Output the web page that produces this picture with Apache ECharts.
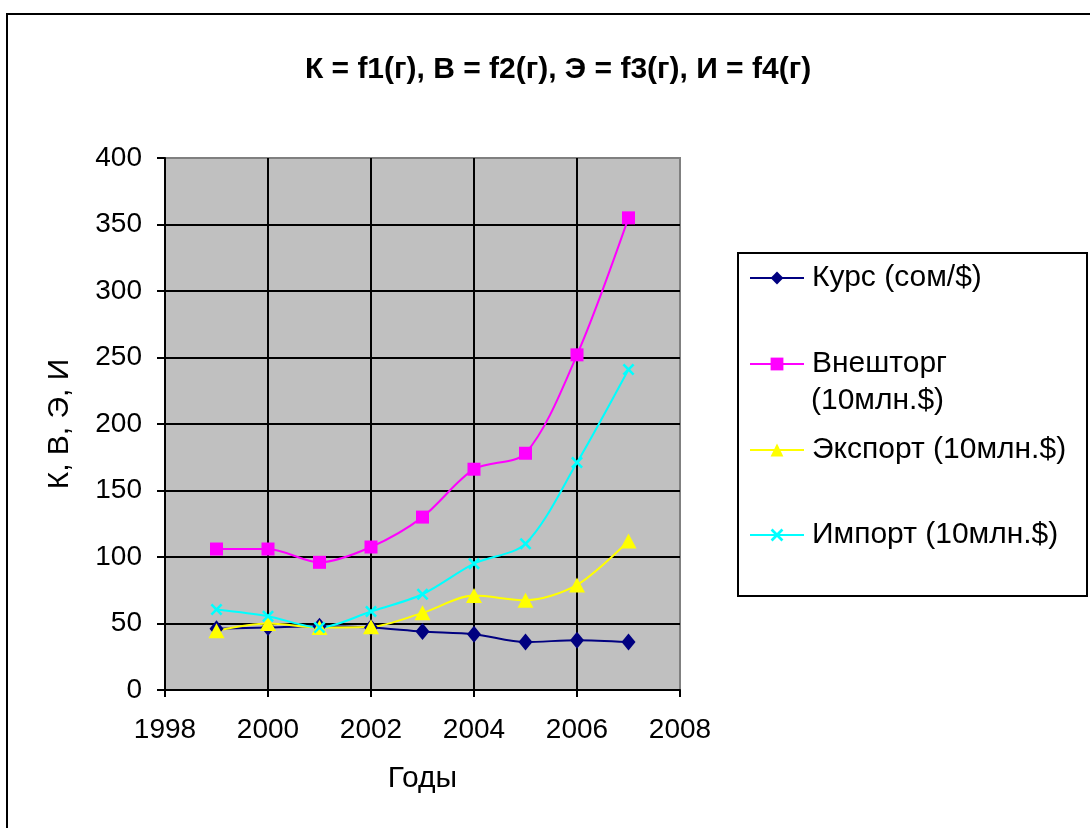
<!DOCTYPE html>
<html><head><meta charset="utf-8">
<script src="https://cdn.jsdelivr.net/npm/echarts@6/dist/echarts.min.js"></script>
<style>html,body{margin:0;padding:0;background:#fff}#c{width:1090px;height:828px}</style>
</head><body><div id="c"></div>
<script>
const years = [1999, 2000, 2001, 2002, 2003, 2004, 2005, 2006, 2007];
const kurs = [46, 47, 48, 47, 44, 42, 36, 37.5, 36];
const vneshtorg = [106, 106, 96, 107.5, 130, 166, 178, 252, 355];
const eksport = [44.5, 50, 47, 47.5, 58, 71, 67.5, 79, 112];
const import_ = [60.5, 55.5, 47, 59, 72, 95, 110, 171, 241];
const seriesNames = ['Курс (сом/$)', 'Внешторг (10млн.$)', 'Экспорт (10млн.$)', 'Импорт (10млн.$)'];
const yTicks = [0, 50, 100, 150, 200, 250, 300, 350, 400];
const xTicks = [1998, 2000, 2002, 2004, 2006, 2008];

const pair = arr => years.map((y, i) => [y, arr[i]]);
const FONT = 'Liberation Sans, Arial, sans-serif';
const xMark = 'path://M0,1.5L1.5,0L5,3.5L8.5,0L10,1.5L6.5,5L10,8.5L8.5,10L5,6.5L1.5,10L0,8.5L3.5,5Z';

const chart = echarts.init(document.getElementById('c'));
const legendRows = [280, 366, 452, 537];
const legendFmt = [n => n, () => 'Внешторг', n => n, n => n];
chart.setOption({
  backgroundColor: '#fff',
  animation: false,
  title: {
    text: 'К = f1(г), В = f2(г), Э = f3(г), И = f4(г)',
    left: 553, top: 50, textAlign: 'center',
    textStyle: { fontFamily: FONT, fontSize: 30, fontWeight: 'bold', color: '#000' }
  },
  legend: seriesNames.map((n, i) => ({
    data: [n], left: 749, top: legendRows[i] - 17, padding: 0,
    itemWidth: 54, itemHeight: 16,
    formatter: legendFmt[i],
    textStyle: { fontFamily: FONT, fontSize: 30, color: '#000', padding: [0, 0, 0, 3] }
  })),
  graphic: [
    { type: 'rect', shape: { x: 7, y: 14, width: 1200, height: 900 }, style: { fill: 'none', stroke: '#000', lineWidth: 2 }, z: -1 },
    { type: 'rect', shape: { x: 738, y: 253, width: 349, height: 343 }, style: { fill: '#fff', stroke: '#000', lineWidth: 2 }, z: -1 },
    { type: 'text', left: 811, top: 386, style: { text: '(10млн.$)', font: '30px ' + FONT, fill: '#000' } }
  ],
  grid: { left: 165, right: 410, top: 158, bottom: 138, show: true, backgroundColor: '#c0c0c0', borderColor: '#808080', borderWidth: 2 },
  xAxis: {
    type: 'value', min: 1998, max: 2008, interval: 2,
    name: 'Годы', nameLocation: 'middle', nameGap: 74,
    nameTextStyle: { fontFamily: FONT, fontSize: 30, color: '#000' },
    axisLine: { onZero: false, lineStyle: { color: '#000', width: 2 } },
    axisTick: { show: true, length: 7, lineStyle: { color: '#000', width: 2 } },
    axisLabel: { fontFamily: FONT, fontSize: 28, color: '#000', margin: 26, formatter: v => String(v) },
    splitLine: { show: true, showMinLine: false, showMaxLine: false, lineStyle: { color: '#000', width: 2 } }
  },
  yAxis: {
    type: 'value', min: 0, max: 400, interval: 50,
    name: 'К, В, Э, И', nameLocation: 'middle', nameGap: 90,
    nameTextStyle: { fontFamily: FONT, fontSize: 30, color: '#000' },
    axisLine: { show: true, lineStyle: { color: '#000', width: 2 } },
    axisTick: { show: true, length: 8, lineStyle: { color: '#000', width: 2 } },
    axisLabel: { fontFamily: FONT, fontSize: 28, color: '#000', margin: 23 },
    splitLine: { show: true, showMinLine: false, showMaxLine: false, lineStyle: { color: '#000', width: 2 } }
  },
  series: [
    { name: seriesNames[0], type: 'line', data: pair(kurs), smooth: 0.3, symbol: 'diamond', symbolSize: [14, 17],
      itemStyle: { color: '#000080' }, lineStyle: { color: '#000080', width: 2 } },
    { name: seriesNames[1], type: 'line', data: pair(vneshtorg), smooth: 0.3, symbol: 'rect', symbolSize: 13,
      itemStyle: { color: '#ff00ff' }, lineStyle: { color: '#ff00ff', width: 2 } },
    { name: seriesNames[2], type: 'line', data: pair(eksport), smooth: 0.3, symbol: 'triangle', symbolSize: [16, 15],
      itemStyle: { color: '#ffff00' }, lineStyle: { color: '#ffff00', width: 2 } },
    { name: seriesNames[3], type: 'line', data: pair(import_), smooth: 0.3, symbol: xMark, symbolSize: 12,
      itemStyle: { color: '#00ffff' }, lineStyle: { color: '#00ffff', width: 2 } }
  ]
});
</script></body></html>
